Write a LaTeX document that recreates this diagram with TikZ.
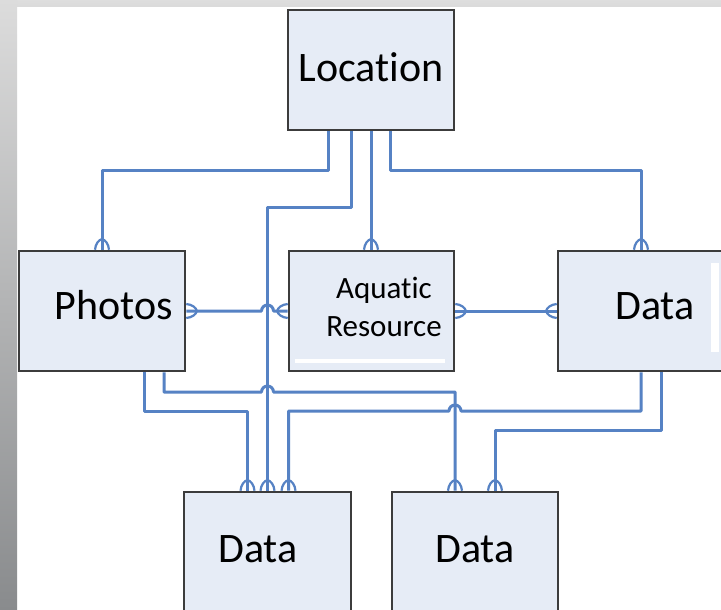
\documentclass[tikz,border=0pt]{standalone}
\usepackage{fontspec}
\setmainfont{Carlito}[RawFeature=-liga]
\usetikzlibrary{calc}
\definecolor{boxfill}{RGB}{230,236,246}
\definecolor{boxline}{RGB}{60,60,60}
\definecolor{connc}{RGB}{86,130,196}
\tikzset{
  box/.style={draw=boxline, fill=boxfill, line width=2.6pt, inner sep=0pt, outer sep=0pt, rectangle, anchor=north west, minimum width=166pt, minimum height=120pt},
  lbl/.style={font=\fontsize{42}{50}\selectfont, inner sep=0pt, anchor=base},
  slbl/.style={font=\fontsize{31}{38}\selectfont, inner sep=0pt, anchor=base},
  conn/.style={draw=connc, line width=3pt, line join=round},
  crow/.pic={\draw[draw=connc, line width=2.2pt] (-7,-1.3) .. controls (-6.5,-7) and (-3.5,-11) .. (0,-12) .. controls (3.5,-11) and (6.5,-7) .. (7,-1.3);}
}
\begin{document}
\begin{tikzpicture}[x=1pt,y=-1pt]
\useasboundingbox (0,0) rectangle (721,610);
\begin{scope}
\clip (0,0) rectangle (721,610);
\fill[white] (0,0) rectangle (721,610);
\shade[top color={rgb,255:red,222;green,222;blue,222}, bottom color={rgb,255:red,218;green,218;blue,218}] (0,0) rectangle (721,7);
\shade[top color={rgb,255:red,220;green,220;blue,220}, bottom color={rgb,255:red,137;green,139;blue,141}] (0,0) rectangle (17,610);

% boxes
\node[box] (loc) at (288,10) {};
\node[box] (photos) at (19,251) {};
\node[box, minimum width=165pt] (aq) at (289,251) {};
\node[box] (dataR) at (558,251) {};
\node[box, minimum width=167pt, minimum height=130pt] (dataBL) at (184,492) {};
\node[box, minimum height=130pt] (dataBR) at (392,492) {};

% small white marks inside boxes
\fill[white] (295,359) rectangle (445,363);
\fill[white] (711,263) rectangle (719,352);

% labels
\node[lbl] (tloc) at (371,82) {Location};
\node[lbl] (tphotos) at (114,319) {Photos};
\node[slbl] (taq1) at (384,298) {Aquatic};
\node[slbl] (taq2) at (384,336) {Resource};
\node[lbl] (tdataR) at (655,319) {Data};
\node[lbl] (tdataBL) at (258,562) {Data};
\node[lbl] (tdataBR) at (475,562) {Data};

% connectors from Location
\draw[conn] ($(loc.south)+(-43,1.3)$) |- ($(photos.north)+(0,-81)$) -- ($(photos.north)+(0,-1.3)$);
\draw[conn] ($(loc.south)+(-20,1.3)$) |- ($(dataBL.north)+(0,-285)$) -- ($(dataBL.north)+(0,-1.3)$);
\draw[conn] ($(loc.south)+(0,1.3)$) -- ($(loc.south |- aq.north)+(0,-1.3)$);
\draw[conn] ($(loc.south)+(19,1.3)$) |- ($(dataR.north)+(0,-81)$) -- ($(dataR.north)+(0,-1.3)$);

% middle row
\draw[conn] ($(photos.east)+(1.3,0)$) -- ($(photos.east -| dataBL.north)+(-6,0)$) arc[start angle=180, end angle=360, radius=6] -- ($(aq.west)+(-1.3,0)$);
\draw[conn] ($(aq.east)+(1.3,0)$) -- ($(dataR.west)+(-1.3,0)$);

% from Photos
\draw[conn] ($(photos.south)+(42,1.3)$) |- ($(dataBL.north)+(-20,-81)$) -- ($(dataBL.north)+(-20,-1.3)$);
\draw[conn] ($(photos.south)+(62,1.3)$) -- ($(photos.south)+(62,21)$) -- ($(dataBL.north)+(-6,-100)$) arc[start angle=180, end angle=360, radius=6] -- ($(dataBR.north)+(-20,-100)$) -- ($(dataBR.north)+(-20,-1.3)$);

% from right Data
\draw[conn] ($(dataR.south)+(0,1.3)$) -- ($(dataR.south)+(0,40)$) -- ($(dataBR.north)+(-14,-81)$) arc[start angle=0, end angle=-180, radius=6] -- ($(dataBL.north)+(21,-81)$) -- ($(dataBL.north)+(21,-1.3)$);
\draw[conn] ($(dataR.south)+(20,1.3)$) |- ($(dataBR.north)+(20,-62)$) -- ($(dataBR.north)+(20,-1.3)$);

% crow's feet
\pic at (photos.north) {crow};
\pic at (loc.south |- aq.north) {crow};
\pic at (dataR.north) {crow};
\pic[rotate=-90] at (photos.east) {crow};
\pic[rotate=90] at (aq.west) {crow};
\pic[rotate=-90] at (aq.east) {crow};
\pic[rotate=90] at (dataR.west) {crow};
\pic at ($(dataBL.north)+(-20,0)$) {crow};
\pic at (dataBL.north) {crow};
\pic at ($(dataBL.north)+(21,0)$) {crow};
\pic at ($(dataBR.north)+(-20,0)$) {crow};
\pic at ($(dataBR.north)+(20,0)$) {crow};
\end{scope}
\end{tikzpicture}
\end{document}
